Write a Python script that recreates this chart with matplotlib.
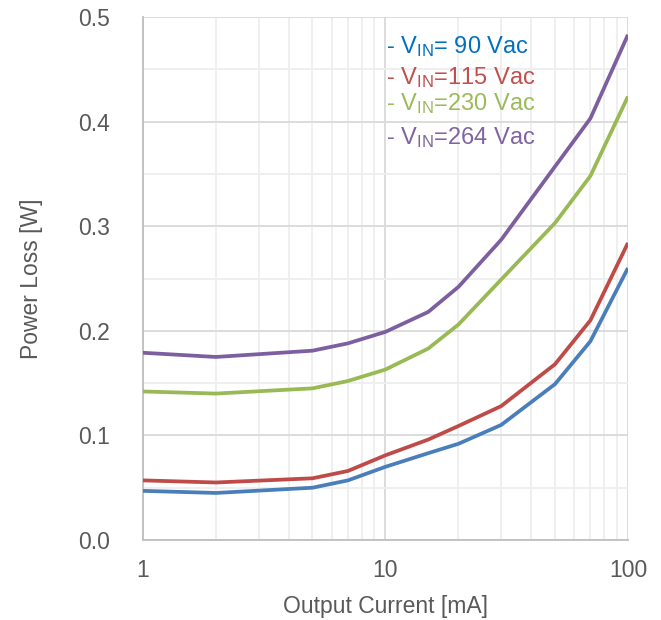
import matplotlib
matplotlib.use("Agg")
import matplotlib.pyplot as plt
from matplotlib.ticker import FixedLocator, MultipleLocator, NullFormatter

plt.rcParams['font.family'] = ['Liberation Sans', 'DejaVu Sans']
plt.rcParams['mathtext.fontset'] = 'custom'
plt.rcParams['mathtext.rm'] = 'Liberation Sans'
plt.rcParams['mathtext.it'] = 'Liberation Sans'

# Data
current_ma = [1, 2, 5, 7, 10, 15, 20, 30, 50, 70, 100]
loss_90 = [0.047, 0.045, 0.050, 0.057, 0.070, 0.083, 0.092, 0.110, 0.149, 0.190, 0.260]
loss_115 = [0.057, 0.055, 0.059, 0.066, 0.081, 0.096, 0.109, 0.128, 0.168, 0.210, 0.284]
loss_230 = [0.142, 0.140, 0.145, 0.152, 0.163, 0.183, 0.206, 0.249, 0.303, 0.348, 0.424]
loss_264 = [0.179, 0.175, 0.181, 0.188, 0.199, 0.218, 0.242, 0.287, 0.357, 0.403, 0.483]

labels = ['- $\\mathrm{V_{IN}}$= 90 Vac', '- $\\mathrm{V_{IN}}$=115 Vac',
          '- $\\mathrm{V_{IN}}$=230 Vac', '- $\\mathrm{V_{IN}}$=264 Vac']
line_colors = ['#4A7EBB', '#BE4B48', '#98B954', '#7D5FA0']
text_colors = ['#0070C0', '#C0504D', '#9BBB59', '#8064A2']

fig = plt.figure(figsize=(6.61, 6.20), dpi=100)
ax = fig.add_axes([0.2163, 0.129, 0.7337, 0.8436])

for y, c in zip([loss_90, loss_115, loss_230, loss_264], line_colors):
    ax.plot(current_ma, y, color=c, lw=2.7, solid_capstyle='butt', zorder=3)

ax.set_xscale('log')
ax.set_xlim(1, 100)
ax.set_ylim(0, 0.5)
ax.yaxis.set_major_locator(MultipleLocator(0.1))
ax.yaxis.set_minor_locator(MultipleLocator(0.05))
ax.xaxis.set_major_locator(FixedLocator([1, 10, 100]))
ax.xaxis.set_major_formatter(plt.FuncFormatter(lambda v, p: f'{v:g}'))
ax.xaxis.set_minor_formatter(NullFormatter())
ax.yaxis.set_major_formatter(plt.FuncFormatter(lambda v, p: f'{v:.1f}'))

ax.grid(which='major', color='#D9D9D9', lw=1.3)
ax.grid(which='minor', color='#EEEEEE', lw=1.3)
ax.set_axisbelow(True)

for s in ['top', 'right']:
    ax.spines[s].set_visible(False)
for s in ['left', 'bottom']:
    ax.spines[s].set_color('#BFBFBF')
    ax.spines[s].set_linewidth(1.3)

ax.tick_params(which='both', length=0, labelsize=16.5, colors='#595959')
ax.tick_params(axis='y', pad=24)
ax.tick_params(axis='x', pad=14)

ax.set_xlabel('Output Current [mA]', fontsize=16.5, color='#595959', labelpad=9)
ax.set_ylabel('Power Loss [W]', fontsize=16.5, color='#595959', labelpad=25)

# legend as text boxes
legend_y = [47, 78, 104, 138]
for lab, c, py in zip(labels, text_colors, legend_y):
    fig.text(386 / 661, 1 - py / 620, lab, color=c, fontsize=17, va='center', ha='left')

fig.savefig('out.png', dpi=100)
